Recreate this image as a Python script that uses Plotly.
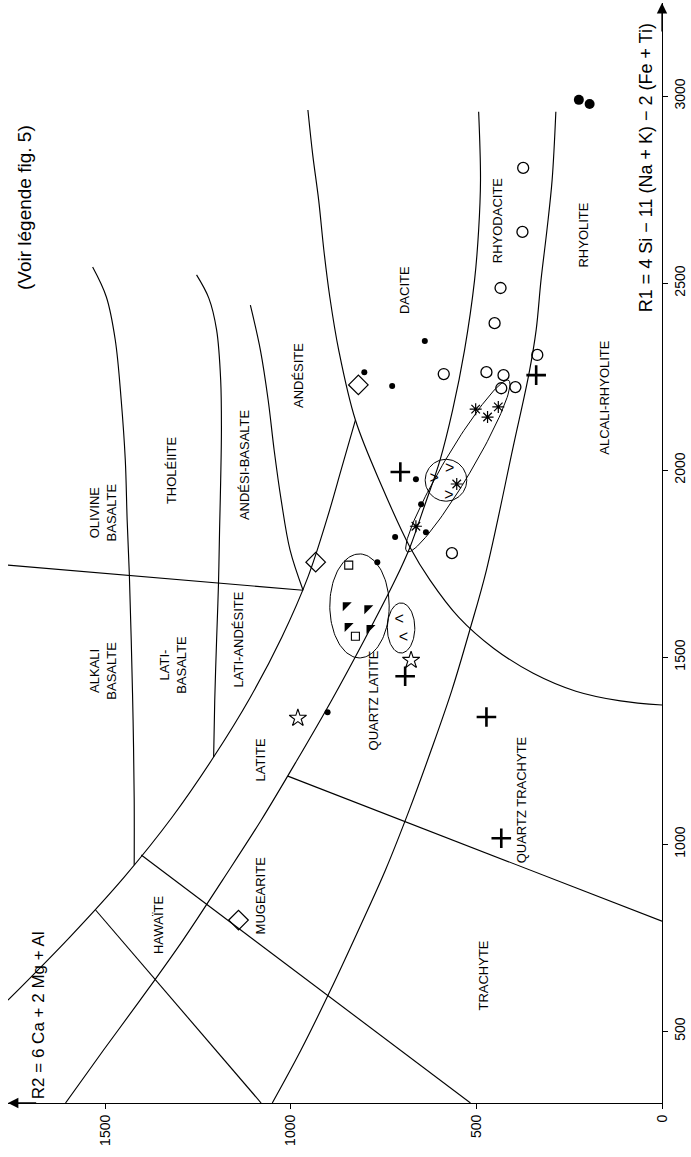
import numpy as np
import plotly.graph_objects as go

# ---------------------------------------------------------------
# R1-R2 diagram, turned a quarter turn: R2 runs leftwards along the
# bottom edge, R1 runs upwards along the right edge.
# ---------------------------------------------------------------
R2_RANGE = [1762, 0]
R1_RANGE = [308, 3249]
R2_TICKS = [0, 500, 1000, 1500]
R1_TICKS = [500, 1000, 1500, 2000, 2500, 3000]

FONT = "Liberation Sans, Arial, Helvetica, sans-serif"

# Field boundaries (R2, R1)
bound_x_r2 = [954, 941, 925, 911, 895, 871, 826, 754, 679, 625, 548, 454, 347, 232, 112, 0]
bound_x_r1 = [2963, 2843, 2722, 2588, 2463, 2321, 2134, 1955, 1794, 1706, 1607, 1524, 1457, 1409, 1383, 1372]
bound_w_r2 = [826, 863, 901, 954, 1024, 1109, 1208, 1320, 1449, 1596, 1762]
bound_w_r1 = [2134, 2006, 1875, 1714, 1554, 1393, 1233, 1072, 912, 751, 583]
bound_y_r2 = [494, 489, 494, 505, 532, 564, 598, 639, 679, 719, 802, 890, 983, 1080, 1184, 1291, 1406, 1505, 1607]
bound_y_r1 = [2958, 2776, 2642, 2508, 2321, 2161, 2027, 1907, 1794, 1706, 1546, 1385, 1225, 1064, 904, 743, 583, 449, 308]
bound_z_r2 = [286, 296, 310, 326, 339, 358, 401, 473, 518, 566, 622, 681, 745, 818, 893, 973, 1050]
bound_z_r1 = [2958, 2776, 2642, 2508, 2375, 2260, 2062, 1733, 1572, 1412, 1251, 1091, 931, 770, 610, 449, 308]
bound_d1_r2 = [1534, 1497, 1473, 1457, 1446, 1441, 1435, 1430, 1425, 1422, 1422]
bound_d1_r1 = [2543, 2463, 2348, 2187, 2027, 1867, 1719, 1546, 1332, 1118, 944]
bound_d2_r2 = [1254, 1221, 1200, 1189, 1187, 1189, 1192, 1195, 1200, 1205, 1208]
bound_d2_r1 = [2522, 2460, 2375, 2241, 2107, 1973, 1840, 1693, 1546, 1385, 1233]
bound_d3_r2 = [1109, 1082, 1061, 1045, 1026, 1002, 967]
bound_d3_r1 = [2441, 2321, 2187, 2054, 1920, 1786, 1679]
straight_f_r2, straight_f_r1 = [967, 1762], [1679, 1746]
straight_l1_r2, straight_l1_r1 = [1080, 1526], [308, 824]
straight_l2_r2, straight_l2_r1 = [516, 1403], [308, 971]
straight_l3_r2, straight_l3_r1 = [0, 1008], [794, 1182]

# Samples (R2, R1)
open_circle_r2 = [435, 451, 336, 588, 473, 427, 433, 395, 566, 374, 376]
open_circle_r1 = [2487, 2393, 2308, 2257, 2262, 2254, 2219, 2222, 1778, 2808, 2637]
big_dot_r2 = [224, 195]
big_dot_r1 = [2990, 2979]
dot_r2 = [639, 802, 727, 663, 649, 636, 719, 767, 901]
dot_r1 = [2345, 2262, 2225, 1976, 1909, 1834, 1821, 1754, 1353]
cross_r2 = [705, 339, 473, 433, 692]
cross_r1 = [1995, 2254, 1340, 1016, 1449]
diamond_r2 = [818, 933, 1141]
diamond_r1 = [2228, 1754, 797]
asterisk_r2 = [502, 470, 441, 553, 663]
asterisk_r1 = [2163, 2142, 2169, 1963, 1850]
chevron_r_r2 = [572, 614, 574]
chevron_r_r1 = [2003, 1976, 1931]
chevron_l_r2 = [708, 697]
chevron_l_r1 = [1599, 1551]
square_r2 = [844, 826]
square_r1 = [1746, 1556]
triangle_r2 = [852, 847, 794, 788]
triangle_r1 = [1639, 1583, 1631, 1578]
star_r2 = [981, 676]
star_r1 = [1337, 1492]

# Sample groups ringed on the diagram: centre R2, centre R1, half-length, half-width, direction (dR2, dR1)
group_r2 = [815, 703, 582, 550]
group_r1 = [1637, 1578, 1973, 2011]
group_long = [139, 67, 56, 267]
group_short = [80, 37, 56, 37]
group_dir = [(0.0, 1.0), (0.0, 1.0), (0.0, 1.0), (-0.513, 0.858)]

# Field names (text, R2, R1)
field_names = ["OLIVINE<br>BASALTE", "ALKALI<br>BASALTE", "THOLÉIITE", "LATI-<br>BASALTE",
               "ANDÉSI-BASALTE", "ANDÉSITE", "DACITE", "RHYODACITE", "RHYOLITE",
               "ALCALI-RHYOLITE", "LATI-ANDÉSITE", "LATITE", "QUARTZ LATITE",
               "QUARTZ TRACHYTE", "TRACHYTE", "MUGEARITE", "HAWAÏTE"]
field_r2 = [1505, 1505, 1323, 1318, 1123, 981, 692, 441, 211, 155, 1141, 1082, 778, 379, 481, 1082, 1355]
field_r1 = [1888, 1465, 2000, 1479, 2014, 2254, 2482, 2669, 2629, 2195, 1546, 1225, 1385, 1118, 650, 864, 784]

fig = go.Figure()

curve_style = dict(color="black", width=1.15)
for cx, cy in [(bound_x_r2, bound_x_r1), (bound_w_r2, bound_w_r1), (bound_y_r2, bound_y_r1),
               (bound_z_r2, bound_z_r1), (bound_d1_r2, bound_d1_r1), (bound_d2_r2, bound_d2_r1),
               (bound_d3_r2, bound_d3_r1)]:
    fig.add_trace(go.Scatter(x=cx, y=cy, mode="lines", hoverinfo="skip",
                             line=dict(shape="spline", smoothing=1.0, **curve_style)))
for cx, cy in [(straight_f_r2, straight_f_r1), (straight_l1_r2, straight_l1_r1),
               (straight_l2_r2, straight_l2_r1), (straight_l3_r2, straight_l3_r1)]:
    fig.add_trace(go.Scatter(x=cx, y=cy, mode="lines", hoverinfo="skip", line=curve_style))

# Rings around sample groups
t = np.linspace(0, 2 * np.pi, 120)
for cx, cy, a, b, (ux, uy) in zip(group_r2, group_r1, group_long, group_short, group_dir):
    vx, vy = -uy, ux
    ex = cx + a * np.sin(t) * ux + b * np.cos(t) * vx
    ey = cy + a * np.sin(t) * uy + b * np.cos(t) * vy
    fig.add_trace(go.Scatter(x=ex, y=ey, mode="lines", hoverinfo="skip",
                             line=dict(color="black", width=1.0)))


def add_markers(xs, ys, symbol, size, width=1.2, color="black"):
    fig.add_trace(go.Scatter(x=xs, y=ys, mode="markers", hoverinfo="skip",
                             marker=dict(symbol=symbol, size=size, color=color,
                                         line=dict(color="black", width=width))))


add_markers(open_circle_r2, open_circle_r1, "circle-open", 11, 1.3)
add_markers(big_dot_r2, big_dot_r1, "circle", 10, 0)
add_markers(dot_r2, dot_r1, "circle", 6, 0)
add_markers(cross_r2, cross_r1, "cross-thin", 14, 2.6)
add_markers(diamond_r2, diamond_r1, "diamond-open", 15, 1.3)
add_markers(asterisk_r2, asterisk_r1, "asterisk-open", 10, 1.2)
add_markers(square_r2, square_r1, "square-open", 8, 1.1)
add_markers(triangle_r2, triangle_r1, "triangle-nw", 10, 0)
add_markers(star_r2, star_r1, "star-open", 13, 1.1)

for xs, ys, glyph in [(chevron_r_r2, chevron_r_r1, ">"), (chevron_l_r2, chevron_l_r1, "<")]:
    fig.add_trace(go.Scatter(x=xs, y=ys, mode="text", text=[glyph] * len(xs), hoverinfo="skip",
                             textfont=dict(family=FONT, size=16, color="black")))

for txt, r2, r1 in zip(field_names, field_r2, field_r1):
    fig.add_annotation(x=r2, y=r1, text=txt, showarrow=False, textangle=-90, align="center",
                       font=dict(family=FONT, size=13, color="black"))

# Axis titles and note
fig.add_annotation(x=42, y=2808, text="R1 = 4 Si − 11 (Na + K) − 2 (Fe + Ti)", showarrow=False,
                   textangle=-90, font=dict(family=FONT, size=18, color="black"))
fig.add_annotation(x=1681, y=543, text="R2 = 6 Ca + 2 Mg + Al", showarrow=False,
                   textangle=-90, font=dict(family=FONT, size=17, color="black"))
fig.add_annotation(x=1716, y=2701, text="(Voir légende fig. 5)", showarrow=False,
                   textangle=-90, font=dict(family=FONT, size=19, color="black"))

# Arrow heads at the open ends of both axes
fig.add_annotation(x=R2_RANGE[0], y=R1_RANGE[0], ax=R2_RANGE[0] - 80, ay=R1_RANGE[0],
                   xref="x", yref="y", axref="x", ayref="y", text="", showarrow=True,
                   arrowhead=2, arrowsize=1.6, arrowwidth=1.3, arrowcolor="black")
fig.add_annotation(x=0, y=R1_RANGE[1], ax=0, ay=R1_RANGE[1] - 80,
                   xref="x", yref="y", axref="x", ayref="y", text="", showarrow=True,
                   arrowhead=2, arrowsize=1.6, arrowwidth=1.3, arrowcolor="black")

axis_common = dict(showgrid=False, zeroline=False, showline=True, linecolor="black", linewidth=1.3,
                   ticks="outside", ticklen=5, tickwidth=1, tickcolor="black", tickangle=-90,
                   tickfont=dict(family=FONT, size=14, color="black"))
fig.update_layout(
    width=691, height=1157, margin=dict(l=8, r=24, t=3, b=54),
    paper_bgcolor="white", plot_bgcolor="white", showlegend=False,
    xaxis=dict(range=R2_RANGE, tickvals=R2_TICKS, **axis_common),
    yaxis=dict(range=R1_RANGE, tickvals=R1_TICKS, side="right", **axis_common),
)

fig.write_html("out.html")
